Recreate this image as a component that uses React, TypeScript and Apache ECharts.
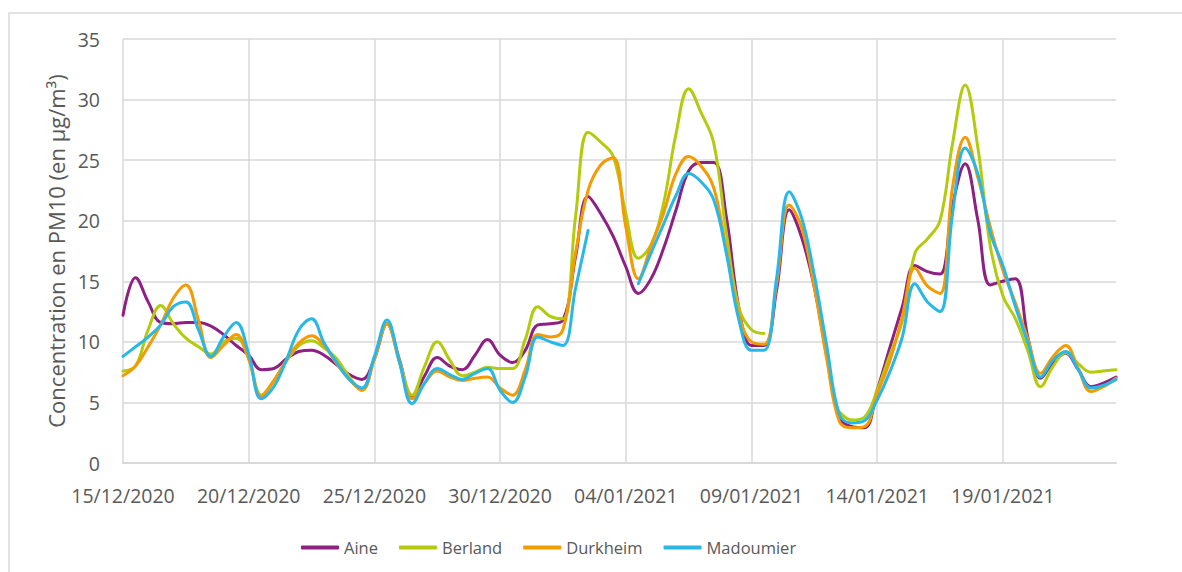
import React, { useEffect, useRef } from "react";
import * as echarts from "echarts";

// Half-day sampling from 15/12/2020 00:00 (80 points)
const START_DATE = [2020, 11, 15];
const POINT_COUNT = 80;

const AINE = [
  12.2, 15.3, 13.3, 11.6, 11.5, 11.6, 11.6, 11.3, 10.6, 9.7,
  8.9, 7.7, 7.8, 8.6, 9.2, 9.3, 8.9, 8.1, 7.3, 6.9,
  8.6, 11.5, 8.5, 5.4, 7.2, 8.7, 8.0, 7.7, 8.9, 10.2,
  8.9, 8.3, 9.3, 11.4, 11.5, 11.8, 17.0, 22.0, 20.6, 18.7,
  16.2, 14.0, 15.2, 17.7, 20.9, 24.1, 24.8, 24.8, 20.3, 12.8,
  9.7, 9.7, 14.3, 20.9, 18.6, 14.5, 8.8, 3.7, 3.0, 2.9,
  6.0, 9.5, 12.9, 16.3, 15.8, 15.6, 21.3, 24.7, 20.1, 14.7,
  15.0, 15.2, 10.3, 7.0, 8.3, 9.05, 7.7, 6.3, 6.6, 7.1,
];

const BERLAND = [
  7.6, 8.0, 11.0, 13.0, 11.5, 10.3, 9.6, 9.0, 10.0, 10.3,
  8.6, 5.6, 6.8, 8.4, 9.7, 10.1, 9.5, 8.6, 7.1, 6.0,
  8.6, 11.5, 8.4, 5.6, 8.0, 10.0, 8.5, 7.2, 7.5, 7.9,
  7.8, 7.8, 10.2, 12.9, 12.1, 11.9, 20.3, 27.3, 26.5, 25.3,
  20.6, 16.9, 18.0, 21.4, 27.2, 30.9, 28.9, 26.4, 19.0, 12.8,
  11.0, 10.7, null, null, null, null, null, 4.2, 3.55, 3.8,
  6.0, 8.9, 11.7, 17.3, 18.5, 20.0, 26.4, 31.2, 26.1, 17.9,
  13.8, 11.9, 9.2, 6.3, 8.0, 9.1, 8.2, 7.5, 7.6, 7.7,
];

const DURKHEIM = [
  7.2, 8.0, 9.6, 11.4, 13.6, 14.7, 11.8, 8.7, 9.7, 10.6,
  8.6, 5.5, 6.8, 8.5, 9.9, 10.5, 9.7, 8.2, 6.9, 6.0,
  8.6, 11.5, 8.3, 5.3, 6.6, 7.6, 7.1, 6.8, 7.0, 7.1,
  6.2, 5.6, 7.7, 10.6, 10.4, 11.0, 17.3, 22.5, 24.6, 25.2,
  19.5, 15.2, 17.9, 20.6, 23.9, 25.3, 24.5, 22.7, 17.6, 12.3,
  10.0, 9.8, 14.8, 21.3, 19.4, 14.5, 8.5, 3.4, 2.9, 3.0,
  5.7, 8.4, 12.1, 16.1, 14.6, 14.0, 22.8, 26.9, 23.6, 19.5,
  15.9, 13.2, 10.2, 7.4, 8.8, 9.7, 7.8, 5.9, 6.3, 7.0,
];

const MADOUMIER = [
  8.8, 9.6, 10.4, 11.4, 12.9, 13.3, 11.0, 8.8, 10.4, 11.6,
  9.0, 5.3, 6.3, 8.5, 11.0, 11.9, 9.9, 8.3, 6.9, 6.2,
  8.8, 11.8, 8.3, 4.9, 6.6, 7.8, 7.3, 6.9, 7.4, 7.8,
  6.0, 5.0, 7.1, 10.4, 10.0, 9.7, 14.4, 19.2, null, null,
  null, 14.8, 17.3, 19.7, 22.1, 23.9, 23.2, 21.7, 17.3, 11.8,
  9.3, 9.3, 15.3, 22.4, 20.2, 15.5, 9.6, 4.0, 3.3, 3.5,
  5.2, 7.5, 10.4, 14.8, 13.3, 12.5, 20.6, 26.0, 23.9, 19.0,
  16.3, 12.9, 9.9, 7.1, 8.5, 9.2, 7.7, 6.2, 6.4, 6.9,
];

const SERIES_NAMES = ["Aine", "Berland", "Durkheim", "Madoumier"];
const SERIES_COLORS = ["#8e1f83", "#b3cb0c", "#f59a00", "#27b8e8"];
const Y_TITLE = "Concentration en PM10 (en µg/m³)";

const pad = (n: number) => (n < 10 ? "0" + n : "" + n);
const CATEGORIES: string[] = [];
for (let k = 0; k < POINT_COUNT; k++) {
  const d = new Date(START_DATE[0], START_DATE[1], START_DATE[2], k * 12);
  CATEGORIES.push(
    pad(d.getDate()) + "/" + pad(d.getMonth() + 1) + "/" + d.getFullYear() + " " + pad(d.getHours()) + "h"
  );
}

export default function App() {
  const ref = useRef<HTMLDivElement>(null);
  useEffect(() => {
    if (!ref.current) return;
    const chart = echarts.init(ref.current, undefined, { renderer: "svg" });
    const font = "'Open Sans', 'Noto Sans', sans-serif";
    const data = [AINE, BERLAND, DURKHEIM, MADOUMIER];
    chart.setOption({
      animation: false,
      textStyle: { fontFamily: font },
      graphic: [
        {
          type: "rect",
          shape: { x: 9, y: 13, width: 1300, height: 700 },
          style: { fill: "none", stroke: "#d9d9d9", lineWidth: 1.5 },
          silent: true,
        },
      ],
      grid: { left: 123, right: 66, top: 39, bottom: 109, containLabel: false },
      legend: {
        left: 296,
        top: 534,
        itemWidth: 38,
        itemHeight: 4,
        itemGap: 21,
        icon: "roundRect",
        textStyle: { color: "#595959", fontSize: 16.5, fontFamily: font },
        data: SERIES_NAMES,
      },
      xAxis: {
        type: "category",
        data: CATEGORIES,
        boundaryGap: false,
        axisLine: { show: true, lineStyle: { color: "#d9d9d9", width: 2 } },
        axisTick: { show: false },
        axisLabel: {
          interval: 9,
          margin: 22,
          color: "#595959",
          fontSize: 19.5,
          fontFamily: font,
          formatter: (v: string) => v.split(" ")[0],
        },
        splitLine: { show: true, interval: 9, lineStyle: { color: "#d9d9d9", width: 1.5 } },
      },
      yAxis: {
        type: "value",
        min: 0,
        max: 35,
        interval: 5,
        name: Y_TITLE,
        nameLocation: "middle",
        nameGap: 53,
        nameTextStyle: { color: "#595959", fontSize: 22, fontFamily: font },
        axisLine: { show: false },
        axisTick: { show: false },
        axisLabel: { margin: 23, color: "#595959", fontSize: 19.5, fontFamily: font },
        splitLine: { show: true, lineStyle: { color: "#d9d9d9", width: 1.5 } },
      },
      series: SERIES_NAMES.map((name, i) => ({
        name,
        type: "line",
        data: data[i],
        smooth: 0.4,
        showSymbol: false,
        connectNulls: false,
        color: SERIES_COLORS[i],
        lineStyle: { width: 3, color: SERIES_COLORS[i], cap: "round" },
      })),
    });
    return () => chart.dispose();
  }, []);
  return (
    <div
      ref={ref}
      style={{ position: "absolute", left: 0, top: 0, width: 1182, height: 572, background: "#fff" }}
    />
  );
}
